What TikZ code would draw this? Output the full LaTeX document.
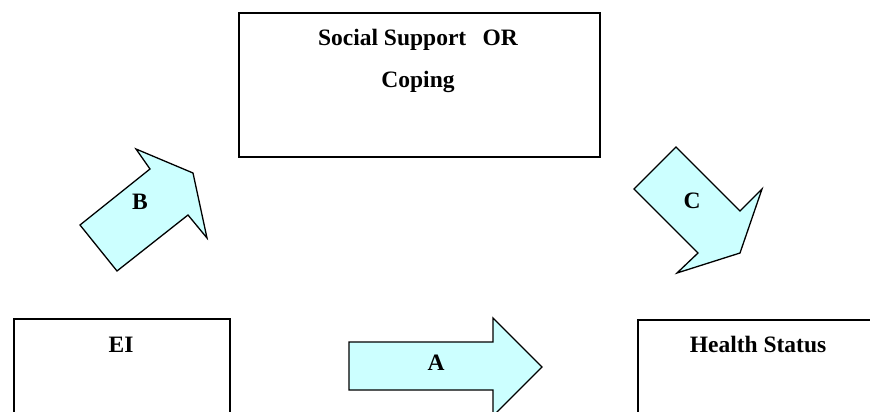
\documentclass[tikz,border=0pt]{standalone}
\usepackage{fontspec}
\setmainfont{Liberation Serif}
\definecolor{arrowfill}{HTML}{CCFFFF}
\begin{document}
\begin{tikzpicture}[x=1pt,y=-1pt,
  frame/.style={draw=black, line width=2pt, fill=white, inner sep=0pt, anchor=north west},
  blockarrow/.style={draw=black, line width=1.3pt, fill=arrowfill, line join=miter},
  lbl/.style={font=\fontsize{23.5}{28}\selectfont\bfseries, inner sep=0pt, anchor=base}]
\useasboundingbox (0,0) rectangle (870,412);

% boxes
\node[frame, minimum width=361pt, minimum height=144pt] (mediator) at (238,12) {};
\node[frame, minimum width=216pt, minimum height=110pt] (ei) at (13,318) {};
\node[frame, minimum width=250pt, minimum height=110pt] (health) at (637,319) {};

% box texts
\node[lbl] (medA) at (418,46) {Social Support\hspace{0.7em}OR};
\node[lbl] (medB) at (418,87) {Coping};
\node[lbl] (eitext) at (121,352) {EI};
\node[lbl] (healthtext) at (758,352) {Health Status};

% block arrows
\draw[blockarrow] (349,342) -- (493,342) -- (493,318) -- (542,367) -- (493,416)
  -- (493,390) -- (349,390) -- cycle;
\draw[blockarrow] (117,271) -- (80,225) -- (150,169) -- (136,149) -- (193,173)
  -- (207,238) -- (188,215) -- cycle;
\draw[blockarrow] (676,147) -- (634,189) -- (698,253) -- (677,273) -- (740,253)
  -- (762,189) -- (740,211) -- cycle;

% arrow labels
\node[lbl] (la) at (436,370) {A};
\node[lbl] (lb) at (140,209) {B};
\node[lbl] (lc) at (692,208) {C};
\end{tikzpicture}
\end{document}
